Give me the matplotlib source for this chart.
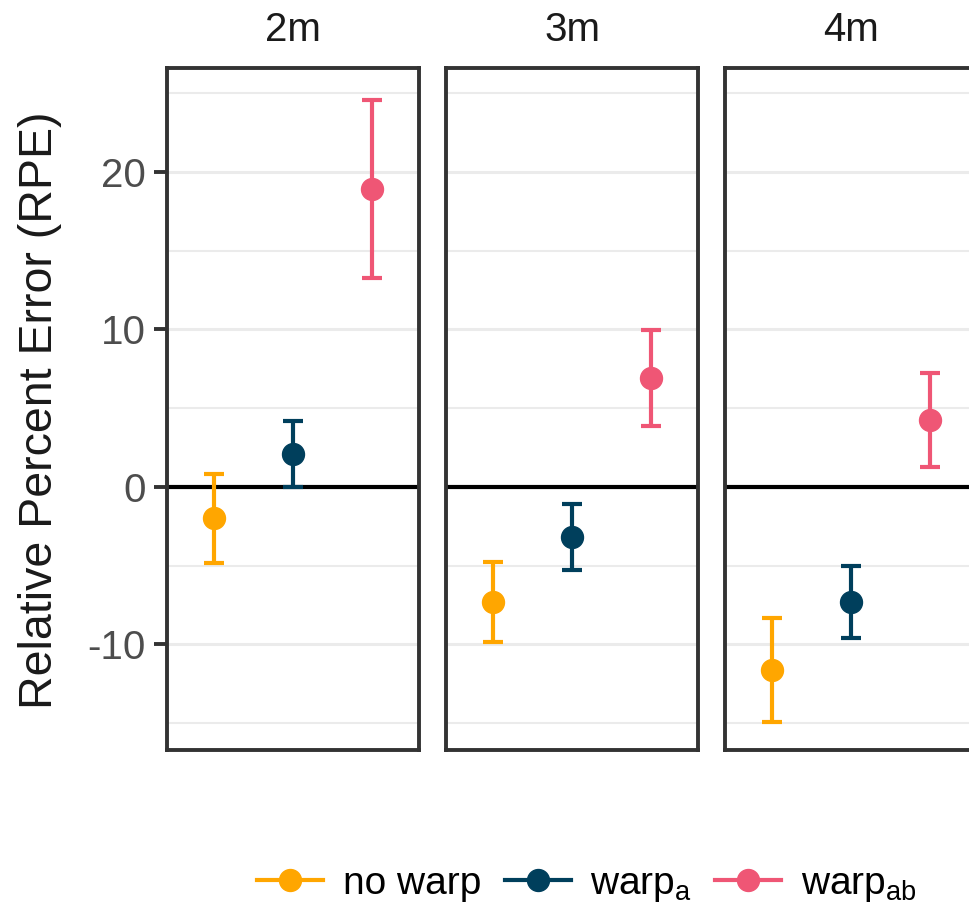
import matplotlib
matplotlib.use("Agg")
import matplotlib.pyplot as plt
from matplotlib.lines import Line2D

plt.rcParams["font.family"] = ["Liberation Sans", "DejaVu Sans"]
plt.rcParams["mathtext.fontset"] = "custom"
plt.rcParams["mathtext.rm"] = "Liberation Sans"
plt.rcParams["mathtext.it"] = "Liberation Sans"

# Data: mean relative percent error and half-width of the interval
distances = ["2m", "3m", "4m"]
conditions = ["no warp", "warp$_{\\rm a}$", "warp$_{\\rm ab}$"]
colors = ["#FFA600", "#003F5C", "#EF5675"]

no_warp_mean = [-2.0, -7.3, -11.6]
no_warp_err = [2.85, 2.55, 3.3]
warp_a_mean = [2.1, -3.2, -7.3]
warp_a_err = [2.1, 2.1, 2.3]
warp_ab_mean = [18.9, 6.9, 4.25]
warp_ab_err = [5.65, 3.05, 3.0]

means = [no_warp_mean, warp_a_mean, warp_ab_mean]
errs = [no_warp_err, warp_a_err, warp_ab_err]

major_ticks = [-10, 0, 10, 20]
minor_ticks = [-15, -5, 5, 15, 25]
ylim = (-16.7, 26.6)

W, H = 969, 911
fig = plt.figure(figsize=(W / 100, H / 100), dpi=100)

panel_left_px = [167, 446, 725]
panel_w_px = 252
panel_top_px, panel_bot_px = 68, 750

border_col = "#333333"
grid_col = "#EBEBEB"

for i, dist in enumerate(distances):
    ax = fig.add_axes([panel_left_px[i] / W, (H - panel_bot_px) / H,
                       panel_w_px / W, (panel_bot_px - panel_top_px) / H])
    ax.set_xlim(0.4, 3.6)
    ax.set_ylim(*ylim)
    for y in minor_ticks:
        ax.axhline(y, color=grid_col, lw=1.5, zorder=0)
    for y in major_ticks:
        ax.axhline(y, color=grid_col, lw=2.2, zorder=0)
    ax.axhline(0, color="black", lw=3.0, zorder=1)

    for j in range(len(conditions)):
        ax.errorbar(j + 1, means[j][i], yerr=errs[j][i], fmt="o",
                    color=colors[j], ms=15.8, elinewidth=3.0, capsize=7.4,
                    capthick=3.0, zorder=3)

    ax.set_xticks([])
    ax.set_yticks(major_ticks)
    if i == 0:
        ax.tick_params(axis="y", length=9.5, width=2.8, color=border_col,
                       labelsize=29, labelcolor="#4D4D4D", pad=6)
        ax.set_yticklabels([str(t) for t in major_ticks])
    else:
        ax.tick_params(axis="y", length=0, labelleft=False)
    for s in ax.spines.values():
        s.set_color(border_col)
        s.set_linewidth(2.8)
        s.set_zorder(5)
    ax.text(0.5, 1 + 38 / (panel_bot_px - panel_top_px), dist,
            transform=ax.transAxes, ha="center", va="center",
            fontsize=29, color="#1A1A1A")

fig.text(40 / W, (H - 410) / H, "Relative Percent Error (RPE)",
         rotation=90, ha="center", va="center", fontsize=33.5, color="#1A1A1A")

handles = [Line2D([0], [0], color=c, lw=3.0, marker="o", ms=15.8)
           for c in colors]
fig.legend(handles, conditions, loc="center", ncol=3, frameon=False,
           bbox_to_anchor=(587 / W, (H - 885) / H), fontsize=28,
           handlelength=1.7, handletextpad=0.5, columnspacing=0.6,
           borderaxespad=0, borderpad=0)

fig.savefig("out.png", dpi=100, facecolor="white")
